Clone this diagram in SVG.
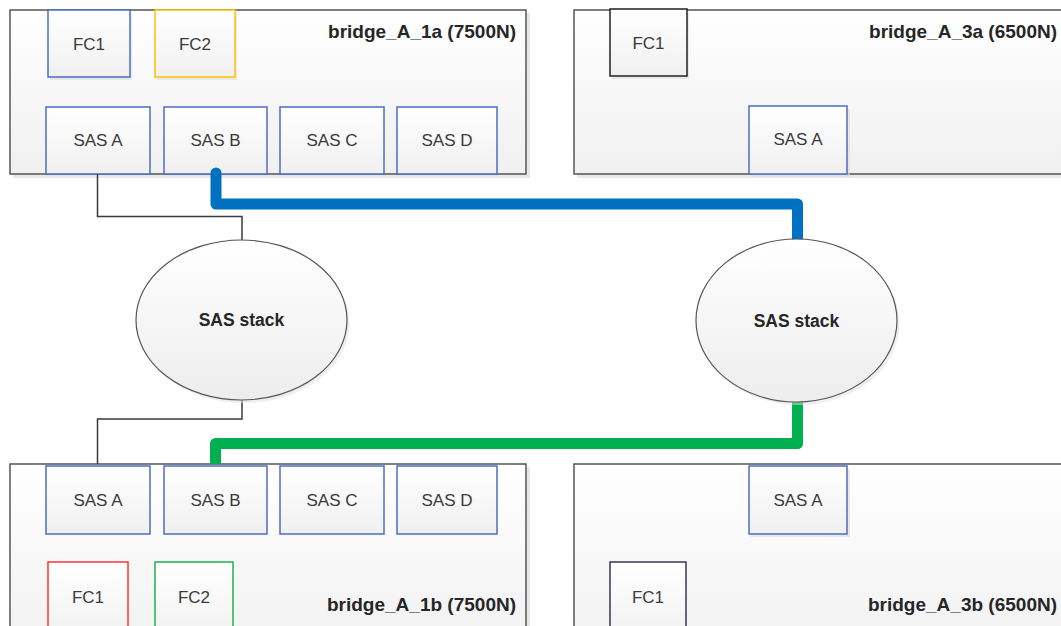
<svg xmlns="http://www.w3.org/2000/svg" width="1061" height="626" viewBox="0 0 1061 626">
<defs>
<linearGradient id="boxGrad" x1="0" y1="0" x2="0" y2="1">
<stop offset="0" stop-color="#ffffff"/>
<stop offset="1" stop-color="#f0f0f0"/>
</linearGradient>
<linearGradient id="portGrad" x1="0" y1="0" x2="0" y2="1">
<stop offset="0" stop-color="#ffffff"/>
<stop offset="1" stop-color="#f0f0f0"/>
</linearGradient>
<linearGradient id="ellGrad" x1="0" y1="0" x2="0" y2="1">
<stop offset="0" stop-color="#ffffff"/>
<stop offset="1" stop-color="#ededed"/>
</linearGradient>
</defs>
<style>
.shadow { fill: #d8d8d8; opacity: 0.6; }
.bridge { fill: url(#boxGrad); stroke: #555555; stroke-width: 1.5; }
.port { fill: url(#portGrad); stroke: #4d6ec4; stroke-width: 1.5; }
.pshadow { fill: #dcdcdc; opacity: 0.6; }
.lbl { font-family: "Liberation Sans", Arial, sans-serif; font-size: 17px; fill: #3a3a3a; text-anchor: middle; }
.title { font-family: "Liberation Sans", Arial, sans-serif; font-size: 19px; font-weight: bold; fill: #262626; text-anchor: end; }
.stack { fill: url(#ellGrad); stroke: #555555; stroke-width: 1.2; }
.stacklbl { font-family: "Liberation Sans", Arial, sans-serif; font-size: 17.5px; font-weight: bold; fill: #262626; text-anchor: middle; }
.thin { fill: none; stroke: #3a3a3a; stroke-width: 1.5; }
.blue { fill: none; stroke: #0070c0; stroke-width: 11; stroke-linejoin: round; stroke-linecap: round; }
.green { fill: none; stroke: #00b050; stroke-width: 11; stroke-linejoin: round; stroke-linecap: butt; }
</style>
<rect width="1061" height="626" fill="#ffffff"/>

<g id="bridge_A_1a">
<rect class="shadow" x="13" y="13" width="517" height="165"/>
<rect class="bridge" x="10" y="10" width="516" height="164"/>
<rect class="pshadow" x="50" y="13" width="82" height="67"/>
<rect class="port" x="48" y="10" width="82" height="67"/>
<text class="lbl" x="89" y="50">FC1</text>
<rect class="pshadow" x="157" y="13" width="80" height="67"/>
<rect class="port" x="155" y="10" width="80" height="67" style="stroke:#ffc000"/>
<text class="lbl" x="195" y="50">FC2</text>
<rect class="port" x="46" y="107" width="104" height="67"/>
<text class="lbl" x="98" y="146">SAS A</text>
<rect class="port" x="164" y="107" width="103" height="67"/>
<text class="lbl" x="215.5" y="146">SAS B</text>
<rect class="port" x="280" y="107" width="104" height="67"/>
<text class="lbl" x="332" y="146">SAS C</text>
<rect class="port" x="397" y="107" width="100" height="67"/>
<text class="lbl" x="447" y="146">SAS D</text>
<text class="title" x="516" y="38">bridge_A_1a (7500N)</text>
</g>

<g id="bridge_A_3a">
<rect class="shadow" x="577" y="13" width="490" height="165"/>
<rect class="bridge" x="574" y="10" width="495" height="164"/>
<rect class="pshadow" x="612" y="12" width="77" height="67"/>
<rect class="port" x="610" y="9" width="77" height="67" style="stroke:#222222"/>
<text class="lbl" x="648.5" y="49">FC1</text>
<rect class="pshadow" x="751" y="109" width="99" height="68"/>
<rect class="port" x="749" y="106" width="98" height="68"/>
<text class="lbl" x="798" y="145">SAS A</text>
<text class="title" x="1057" y="38">bridge_A_3a (6500N)</text>
</g>

<g id="bridge_A_1b">
<rect class="shadow" x="13" y="467" width="517" height="165"/>
<rect class="bridge" x="10" y="464" width="516" height="200"/>
<rect class="port" x="46" y="466" width="104" height="68"/>
<text class="lbl" x="98" y="506">SAS A</text>
<rect class="port" x="164" y="466" width="103" height="68"/>
<text class="lbl" x="215.5" y="506">SAS B</text>
<rect class="port" x="280" y="466" width="104" height="68"/>
<text class="lbl" x="332" y="506">SAS C</text>
<rect class="port" x="397" y="466" width="100" height="68"/>
<text class="lbl" x="447" y="506">SAS D</text>
<rect class="port" x="48" y="562" width="80" height="80" style="stroke:#ff3333"/>
<text class="lbl" x="88" y="603">FC1</text>
<rect class="port" x="155" y="562" width="78" height="80" style="stroke:#22b050"/>
<text class="lbl" x="194" y="603">FC2</text>
<text class="title" x="516" y="611">bridge_A_1b (7500N)</text>
</g>

<g id="bridge_A_3b">
<rect class="shadow" x="577" y="467" width="490" height="165"/>
<rect class="bridge" x="574" y="464" width="495" height="200"/>
<rect class="pshadow" x="751" y="469" width="99" height="68"/>
<rect class="port" x="749" y="466" width="98" height="68"/>
<text class="lbl" x="798" y="506">SAS A</text>
<rect class="port" x="610" y="562" width="76" height="80" style="stroke:#3d3350"/>
<text class="lbl" x="648" y="603">FC1</text>
<text class="title" x="1057" y="611">bridge_A_3b (6500N)</text>
</g>

<g id="connectors">
<path class="thin" d="M 97.5 174 V 216.5 H 242 V 240"/>
<path class="thin" d="M 242 400 V 419 H 97.5 V 464"/>
<path class="blue" d="M 216 173 V 204 H 797.5 V 240"/>
<path class="green" d="M 797.5 402 V 443.5 H 215.5 V 464"/>
</g>

<g id="sas_stack_left">
<ellipse cx="244" cy="323" rx="105.5" ry="80" fill="#e0e0e0" opacity="0.5"/>
<ellipse class="stack" cx="241.5" cy="320" rx="105.5" ry="80"/>
<text class="stacklbl" x="241.5" y="326">SAS stack</text>
</g>

<g id="sas_stack_right">
<ellipse cx="799" cy="323.5" rx="100.5" ry="81.5" fill="#e0e0e0" opacity="0.5"/>
<ellipse class="stack" cx="796.5" cy="320.5" rx="100.5" ry="81.5"/>
<text class="stacklbl" x="796.5" y="326.5">SAS stack</text>
</g>
</svg>
